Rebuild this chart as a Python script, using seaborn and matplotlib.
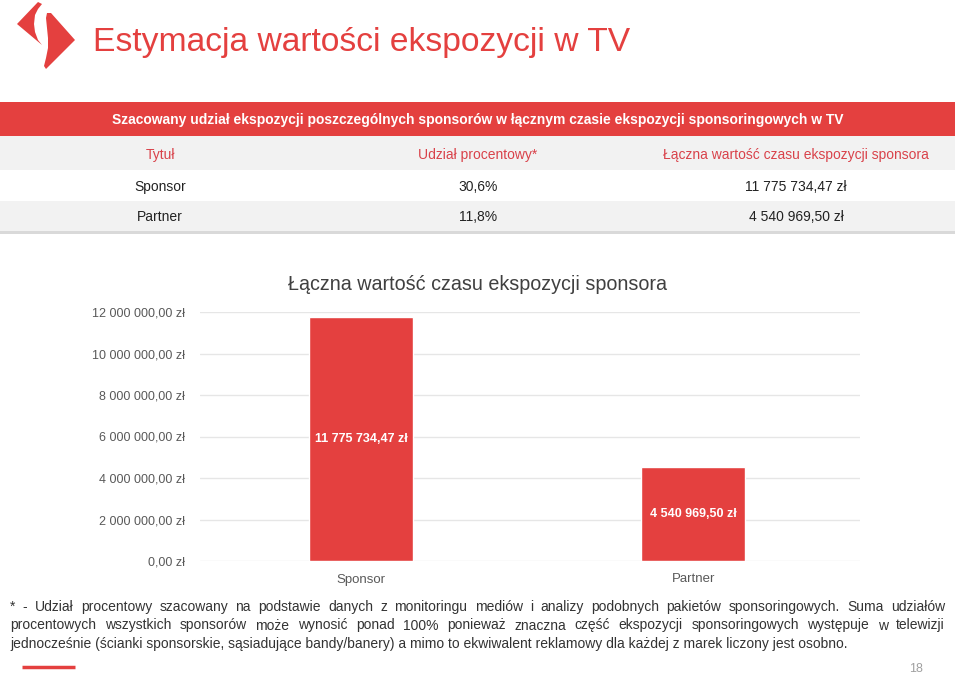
import matplotlib
matplotlib.use("Agg")
import matplotlib.pyplot as plt
import seaborn as sns
import pandas as pd
from matplotlib.patches import Rectangle, Polygon
from matplotlib.ticker import FuncFormatter

# Data
categories = ["Sponsor", "Partner"]
values = [11775734.47, 4540969.50]
shares = ["30,6%", "11,8%"]
value_labels = ["11 775 734,47 zł", "4 540 969,50 zł"]
table_columns = ["Tytuł", "Udział procentowy*", "Łączna wartość czasu ekspozycji sponsora"]
y_ticks = [0, 2e6, 4e6, 6e6, 8e6, 10e6, 12e6]

page_title = "Estymacja wartości ekspozycji w TV"
table_title = "Szacowany udział ekspozycji poszczególnych sponsorów w łącznym czasie ekspozycji sponsoringowych w TV"
chart_title = "Łączna wartość czasu ekspozycji sponsora"
footnote_lines = [
    "* - Udział procentowy szacowany na podstawie danych z monitoringu mediów i analizy podobnych pakietów sponsoringowych. Suma udziałów",
    "procentowych wszystkich sponsorów może wynosić ponad 100% ponieważ znaczna część ekspozycji sponsoringowych występuje w telewizji",
    "jednocześnie (ścianki sponsorskie, sąsiadujące bandy/banery) a mimo to ekwiwalent reklamowy dla każdej z marek liczony jest osobno.",
]

RED = "#e4403f"
W, H = 959, 674

sns.set_style("white")
plt.rcParams["font.family"] = ["Liberation Sans", "DejaVu Sans"]

fig = plt.figure(figsize=(W / 100, H / 100), dpi=100)

# background axes in pixel coordinates
bg = fig.add_axes([0, 0, 1, 1])
bg.set_xlim(0, W)
bg.set_ylim(H, 0)
bg.axis("off")

# logo
bg.add_patch(Polygon([(38, 2), (42, 4), (38, 9), (35, 15), (34, 24), (35, 32), (38, 40), (42, 45), (17, 24)],
                     closed=True, color=RED, lw=0))
bg.add_patch(Polygon([(47, 13), (51, 13), (75, 40), (46, 69), (44, 66), (46, 58), (48, 48), (48, 38), (47, 28), (46, 18)],
                     closed=True, color=RED, lw=0))
bg.text(93, 42, page_title, color=RED, fontsize=24.2, va="center", ha="left")

# table
bg.add_patch(Rectangle((0, 102), 955, 34, color=RED, lw=0))
bg.add_patch(Rectangle((0, 136), 955, 34, color="#f2f2f2", lw=0))
bg.add_patch(Rectangle((0, 201), 955, 30, color="#f2f2f2", lw=0))
bg.add_patch(Rectangle((0, 231), 955, 3, color="#d9d9d9", lw=0))
bg.text(478, 120, table_title, color="white", fontsize=10, fontweight="bold", ha="center", va="center")
col_x = [160, 478, 796]
for cx, col in zip(col_x, table_columns):
    bg.text(cx, 155, col, color="#d9424a", fontsize=10, ha="center", va="center")
for row_y, cat, sh, vl in zip([187, 217], categories, shares, value_labels):
    bg.text(col_x[0], row_y, cat, color="#222222", fontsize=10, ha="center", va="center")
    bg.text(col_x[1], row_y, sh, color="#222222", fontsize=10, ha="center", va="center")
    bg.text(col_x[2], row_y, vl, color="#222222", fontsize=10, ha="center", va="center")

# bottom decorations
bg.plot([22, 75], [667, 667], color=RED, lw=2.5, solid_capstyle="butt")
bg.text(916, 669, "18", color="#a0a0a0", fontsize=9, ha="center", va="center")

# justified footnote
renderer = fig.canvas.get_renderer()
x0, x1 = 10, 945
fn_size = 10
for i, line in enumerate(footnote_lines):
    y = 607 + i * 18.5
    if i == len(footnote_lines) - 1:
        bg.text(x0, y, line, color="#333333", fontsize=fn_size, ha="left", va="center")
        continue
    words = line.split(" ")
    objs = [bg.text(0, y, w, color="#333333", fontsize=fn_size, ha="left", va="center") for w in words]
    widths = [o.get_window_extent(renderer=renderer).width for o in objs]
    gap = (x1 - x0 - sum(widths)) / (len(words) - 1)
    x = x0
    for o, wd in zip(objs, widths):
        o.set_x(x)
        x += wd + gap

# bar chart
ax = fig.add_axes([200 / W, (H - 561) / H, 660 / W, (561 - 312) / H])
df = pd.DataFrame({"Kategoria": categories, "Wartość": values})
sns.barplot(data=df, x="Kategoria", y="Wartość", color=RED, width=0.313, saturation=1, ax=ax, zorder=3)
ax.set_xlim(-0.484, 1.501)
ax.set_ylim(0, 12e6)
ax.set_yticks(y_ticks)
ax.yaxis.set_major_formatter(FuncFormatter(lambda v, p: f"{v:,.2f}".replace(",", " ").replace(".", ",") + " zł"))
ax.grid(axis="y", color="#e6e6e6", lw=1, zorder=0)
ax.set_axisbelow(True)
for s in ax.spines.values():
    s.set_visible(False)
ax.tick_params(axis="both", length=0, labelsize=9, labelcolor="#595959", pad=11)
ax.tick_params(axis="x", pad=9, labelsize=9.5)
ax.set_xlabel("")
ax.set_ylabel("")
for i, (v, lab) in enumerate(zip(values, value_labels)):
    ax.text(i, v / 2, lab, color="white", fontsize=9, fontweight="bold", ha="center", va="center", zorder=4)
fig.text(478 / W, 1 - 284 / H, chart_title, color="#404040", fontsize=14.2, ha="center", va="center")

fig.savefig("out.png", dpi=100)
